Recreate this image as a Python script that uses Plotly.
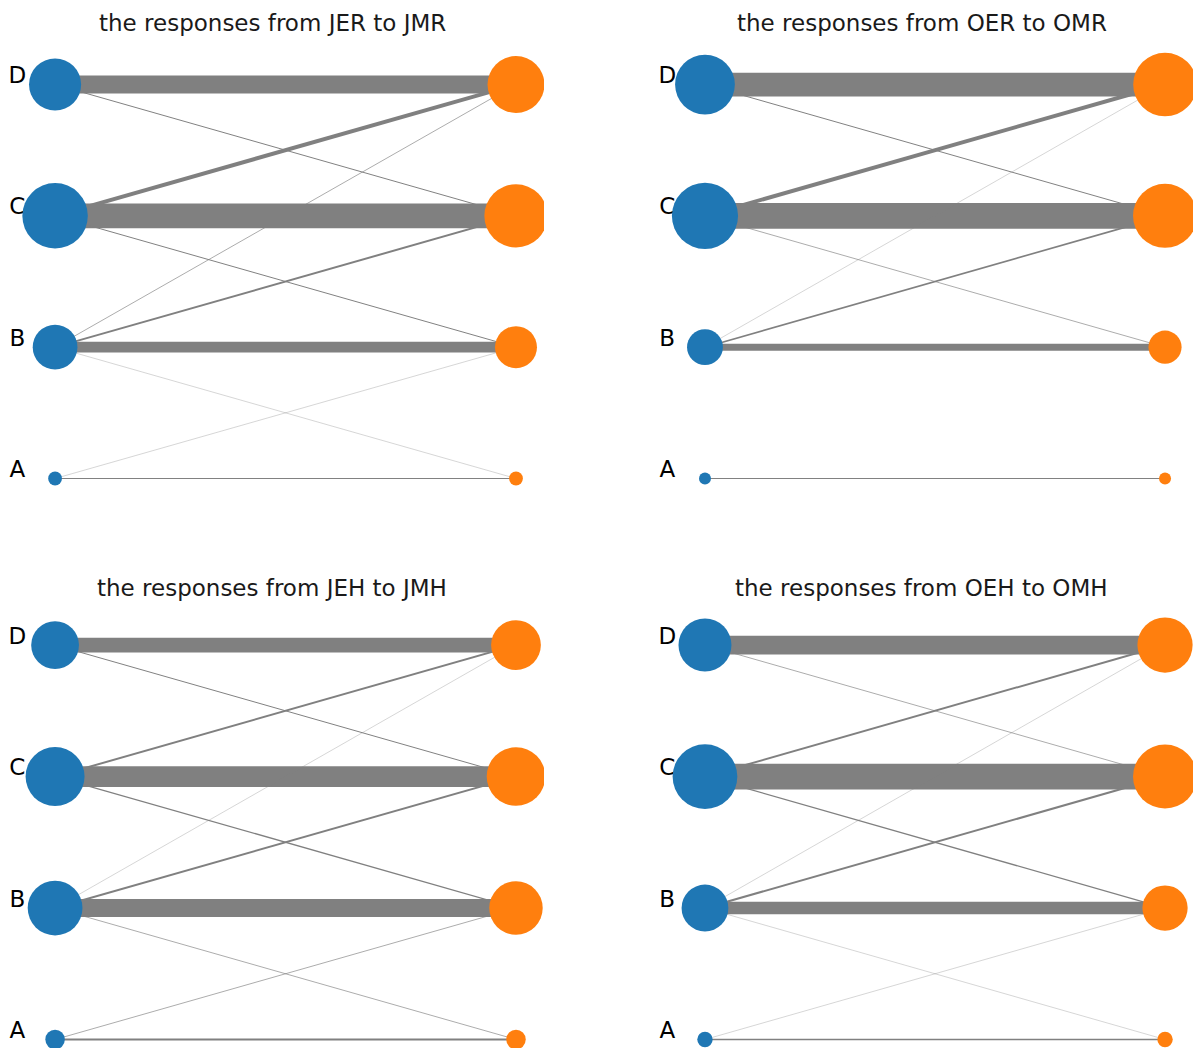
import numpy as np
import plotly.graph_objects as go

# Response categories (top to bottom on each side)
categories = ["D", "C", "B", "A"]
y_pos = [3, 2, 1, 0]

# Panel titles
titles = [
    "the responses from JER to JMR",
    "the responses from OER to OMR",
    "the responses from JEH to JMH",
    "the responses from OEH to OMH",
]

# Transition counts: rows = earlier response (D, C, B, A), cols = later response (D, C, B, A)
jer_to_jmr = [
    [54, 3, 0, 0],
    [12, 75, 3, 0],
    [2, 6, 33, 1],
    [0, 0, 1, 3],
]
oer_to_omr = [
    [72, 3, 0, 0],
    [12, 78, 2, 0],
    [1, 5, 21, 0],
    [0, 0, 0, 3],
]
jeh_to_jmh = [
    [45, 3, 0, 0],
    [6, 63, 4, 0],
    [1, 6, 54, 2],
    [0, 0, 2, 6],
]
oeh_to_omh = [
    [57, 2, 0, 0],
    [6, 78, 4, 0],
    [1, 6, 38, 1],
    [0, 0, 1, 4],
]
panels = [jer_to_jmr, oer_to_omr, jeh_to_jmh, oeh_to_omh]

# Styling
EDGE_COLOR = "#808080"
LEFT_COLOR = "#1f77b4"
RIGHT_COLOR = "#ff7f0e"
WIDTH_PER_COUNT = 0.33     # px of line width per response
NODE_SCALE = 6.9           # node diameter = NODE_SCALE * sqrt(total)
FONT = "DejaVu Sans"

W, H = 1195, 1048

# Subplot placement in pixels (left, right, top, bottom)
boxes = [
    (0, 544, 40, 520),
    (650, 1193, 40, 520),
    (0, 544, 570, 1048),
    (650, 1193, 570, 1048),
]
x_range = [-0.1195, 1.0608]
y_ranges = [[-0.316, 3.339], [-0.316, 3.339], [-0.0647, 3.571], [-0.0647, 3.571]]

fig = go.Figure()
layout = dict(
    width=W, height=H, autosize=False,
    margin=dict(l=0, r=0, t=0, b=0),
    paper_bgcolor="white", plot_bgcolor="white",
    showlegend=False,
    annotations=[],
)

for i, (counts, title, box) in enumerate(zip(panels, titles, boxes)):
    m = np.array(counts, dtype=float)
    sfx = "" if i == 0 else str(i + 1)
    xa, ya = "x" + sfx, "y" + sfx
    l, r, t, b = box
    layout["xaxis" + sfx] = dict(
        domain=[l / W, r / W], range=x_range, visible=False, fixedrange=True,
    )
    layout["yaxis" + sfx] = dict(
        domain=[1 - b / H, 1 - t / H], range=y_ranges[i], visible=False, fixedrange=True,
    )

    # Edges between earlier (x=0) and later (x=1) responses
    for a in range(4):
        for c in range(4):
            n = m[a, c]
            if n <= 0:
                continue
            fig.add_trace(go.Scatter(
                x=[0, 1], y=[y_pos[a], y_pos[c]], mode="lines",
                line=dict(color=EDGE_COLOR, width=n * WIDTH_PER_COUNT),
                hoverinfo="skip", xaxis=xa, yaxis=ya,
            ))

    # Category labels beside the left nodes
    fig.add_trace(go.Scatter(
        x=[-0.082] * 4, y=[v + 0.055 for v in y_pos], mode="text",
        text=categories, textposition="middle center",
        textfont=dict(family=FONT, size=23, color="black"),
        hoverinfo="skip", xaxis=xa, yaxis=ya,
    ))

    # Nodes sized by total responses
    left_tot = m.sum(axis=1)
    right_tot = m.sum(axis=0)
    fig.add_trace(go.Scatter(
        x=[0] * 4, y=y_pos, mode="markers",
        marker=dict(color=LEFT_COLOR, opacity=1, size=NODE_SCALE * np.sqrt(left_tot),
                    line=dict(width=0)),
        xaxis=xa, yaxis=ya,
    ))
    fig.add_trace(go.Scatter(
        x=[1] * 4, y=y_pos, mode="markers",
        marker=dict(color=RIGHT_COLOR, opacity=1, size=NODE_SCALE * np.sqrt(right_tot),
                    line=dict(width=0)),
        xaxis=xa, yaxis=ya,
    ))

    title_y = 23 if i < 2 else 588
    layout["annotations"].append(dict(
        text=title, xref="paper", yref="paper",
        x=(l + r) / 2 / W, y=1 - title_y / H,
        xanchor="center", yanchor="middle", showarrow=False,
        font=dict(family=FONT, size=23, color="#1a1a1a"),
    ))

fig.update_layout(**layout)
fig.write_html("out.html")
